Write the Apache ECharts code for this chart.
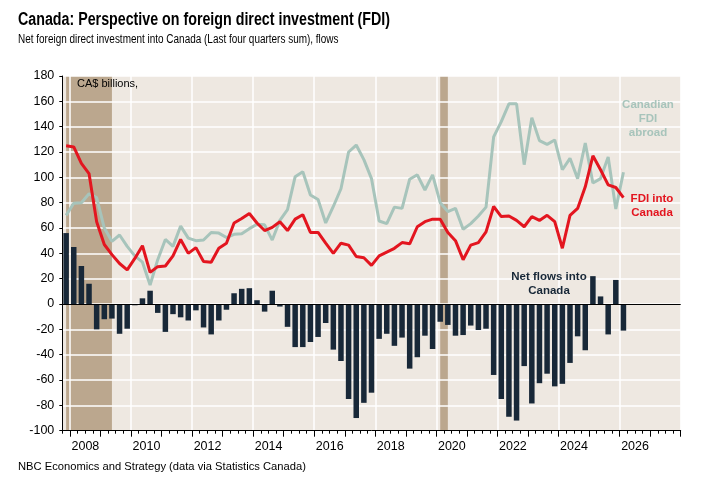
<!DOCTYPE html>
<html><head><meta charset="utf-8">
<script src="https://cdn.jsdelivr.net/npm/echarts@6/dist/echarts.min.js"></script>
<style>html,body{margin:0;padding:0;background:#fff}#c{width:711px;height:482px}</style>
</head><body><div id="c"></div>
<script>
// Quarterly categories on the axis, 2007Q4 .. 2027Q4
const quarters = [];
for (let y = 2007; y <= 2027; y++) {
  for (let q = 1; q <= 4; q++) {
    if (y === 2007 && q < 4) continue;
    quarters.push(y + 'Q' + q);
  }
}
const yearLabels = ['2008','2010','2012','2014','2016','2018','2020','2022','2024','2026'];

// Net flows into Canada (bars), CA$ billions
const netFlows = [56, 45, 30, 16, -20, -12, -11.5, -23.5, -19.5, -1,
  4.5, 10.5, -7, -22, -8, -10.5, -13, -5, -18.5, -24,
  -13, -4.5, 8.5, 12, 12.5, 3, -6, 10.5, -2, -18,
  -34, -34, -30, -26, -15, -36, -45, -75, -90, -78,
  -70, -27.5, -23.5, -33, -26.5, -51, -42, -25, -35.5, -14,
  -16.5, -25, -24.5, -17, -20.5, -19.5, -56, -75, -89, -92,
  -49, -78.5, -62.5, -55, -65, -63, -46.5, -25.5, -36.5, 22,
  6, -24, 19, -21];

// FDI into Canada (red line)
const fdiInto = [125, 124, 111, 103, 65, 47, 39, 32, 27, 36,
  46, 25, 29.5, 30, 38, 51, 40, 44.5, 33.5, 33,
  44, 48, 64, 67.5, 71.5, 64, 58, 60.5, 65, 58,
  67, 70.5, 56.5, 56.5, 48, 40, 48, 46.5, 37.5, 36.5,
  30.5, 38, 41, 44, 48.5, 47.5, 61, 65, 67, 67,
  56.5, 50, 35, 46.5, 48.5, 57, 77, 69, 69.5, 66,
  61, 69, 66, 70, 65, 44, 70, 75.5, 92.5, 117,
  106, 94, 92, 84];

// Canadian FDI abroad (grey-green line)
const fdiAbroad = [70, 79.5, 80, 87, 84, 60, 49.5, 54.5, 45.5, 38,
  33, 15, 35, 51, 45.5, 61.5, 52, 50, 50.5, 56.5,
  56, 52.5, 55, 55.5, 59.5, 63, 62.5, 50.5, 66, 74.5,
  100.5, 104.5, 86, 82.5, 64, 77, 91, 120, 125.5, 114,
  99, 65.5, 63.5, 76.5, 75.5, 98.5, 102, 90, 102, 80,
  73, 75.5, 59, 63.5, 69.5, 76.5, 132, 144, 158, 158,
  110, 147, 129, 126, 129.5, 106, 115, 99, 127, 95.5,
  99, 116, 75, 104];

// Recession shading periods
const recessions = [['2007Q4', '2009Q2'], ['2020Q1', '2020Q2']];

const chart = echarts.init(document.getElementById('c'), null, {renderer: 'canvas'});
const FONT = '"Liberation Sans", Arial, sans-serif';

chart.setOption({
  animation: false,
  backgroundColor: '#ffffff',
  grid: {left: 62.3, right: 30.3, top: 76, bottom: 51.3, show: true, backgroundColor: '#eee8e1', borderWidth: 0},
  xAxis: [{
    type: 'category', data: quarters, boundaryGap: true, position: 'bottom', z: 1.5,
    axisLine: {onZero: false, lineStyle: {color: '#000', width: 1}},
    axisTick: {show: true, interval: 0, length: 3, lineStyle: {color: '#000'}},
    axisLabel: {
      interval: (i, v) => v.endsWith('Q2') && yearLabels.includes(v.slice(0, 4)),
      formatter: v => v.slice(0, 4),
      color: '#000', fontSize: 12.5, fontFamily: FONT, margin: 9, padding: [0, 0, 0, 8]
    },
    splitLine: {
      show: true,
      interval: (i, v) => v.endsWith('Q1') && yearLabels.includes(v.slice(0, 4)),
      lineStyle: {color: '#ffffff', width: 1.5}
    }
  }, {
    type: 'category', data: quarters, boundaryGap: true, position: 'bottom', z: 1.5,
    axisLine: {show: false, onZero: false},
    axisTick: {show: true, interval: (i, v) => v.endsWith('Q1'), length: 6, lineStyle: {color: '#000'}},
    axisLabel: {show: false},
    splitLine: {show: false}
  }],
  yAxis: {
    type: 'value', min: -100, max: 180, interval: 20, z: 1.5,
    axisLine: {show: true, lineStyle: {color: '#000', width: 1}},
    axisTick: {show: true, length: 3, lineStyle: {color: '#000'}},
    axisLabel: {color: '#000', fontSize: 12.5, fontFamily: FONT, margin: 8},
    splitLine: {show: true, lineStyle: {color: '#ffffff', width: 1.5}}
  },
  series: [{
    type: 'line', data: [], z: 1, silent: true,
    markArea: {
      silent: true,
      itemStyle: {color: '#bba78e'},
      data: recessions.map(r => [{xAxis: r[0]}, {xAxis: r[1]}])
    }
  }, {
    name: 'Net flows into Canada', type: 'bar', data: netFlows, barWidth: 5.5, z: 2,
    itemStyle: {color: '#182838'},
    markLine: {
      silent: true, symbol: 'none', label: {show: false},
      lineStyle: {color: '#000', width: 1, type: 'solid'},
      data: [{yAxis: 0}]
    }
  }, {
    name: 'Canadian FDI abroad', type: 'line', data: fdiAbroad, z: 3,
    showSymbol: false, lineStyle: {color: '#a7c4bb', width: 3}
  }, {
    name: 'FDI into Canada', type: 'line', data: fdiInto, z: 4,
    showSymbol: false, lineStyle: {color: '#e3151f', width: 3}
  }],
  graphic: [
    {type: 'text', x: 18, y: 11, scaleX: 0.814, style: {text: 'Canada: Perspective on foreign direct investment (FDI)', x: 0, y: 0, fontSize: 17.5, fontWeight: 'bold', fontFamily: FONT, fill: '#000'}},
    {type: 'text', x: 18, y: 34, scaleX: 0.83, style: {text: 'Net foreign direct investment into Canada (Last four quarters sum), flows', x: 0, y: 0, fontSize: 12, fontFamily: FONT, fill: '#000'}},
    {type: 'text', x: 18, y: 461, style: {text: 'NBC Economics and Strategy (data via Statistics Canada)', x: 0, y: 0, fontSize: 11.2, fontFamily: FONT, fill: '#000'}},
    {type: 'text', style: {text: 'CA$ billions,', x: 77, y: 84, verticalAlign: 'middle', fontSize: 11, fontFamily: FONT, fill: '#000'}, z: 10},
    {type: 'text', style: {text: 'Canadian\nFDI\nabroad', x: 648, y: 119, align: 'center', verticalAlign: 'middle', lineHeight: 14, fontSize: 11.5, fontWeight: 'bold', fontFamily: FONT, fill: '#a7c4bb'}, z: 10},
    {type: 'text', style: {text: 'FDI into\nCanada', x: 652, y: 206, align: 'center', verticalAlign: 'middle', lineHeight: 14, fontSize: 11.5, fontWeight: 'bold', fontFamily: FONT, fill: '#e3151f'}, z: 10},
    {type: 'text', style: {text: 'Net flows into\nCanada', x: 549, y: 284, align: 'center', verticalAlign: 'middle', lineHeight: 14, fontSize: 11.5, fontWeight: 'bold', fontFamily: FONT, fill: '#182838'}, z: 10}
  ]
});
</script></body></html>
